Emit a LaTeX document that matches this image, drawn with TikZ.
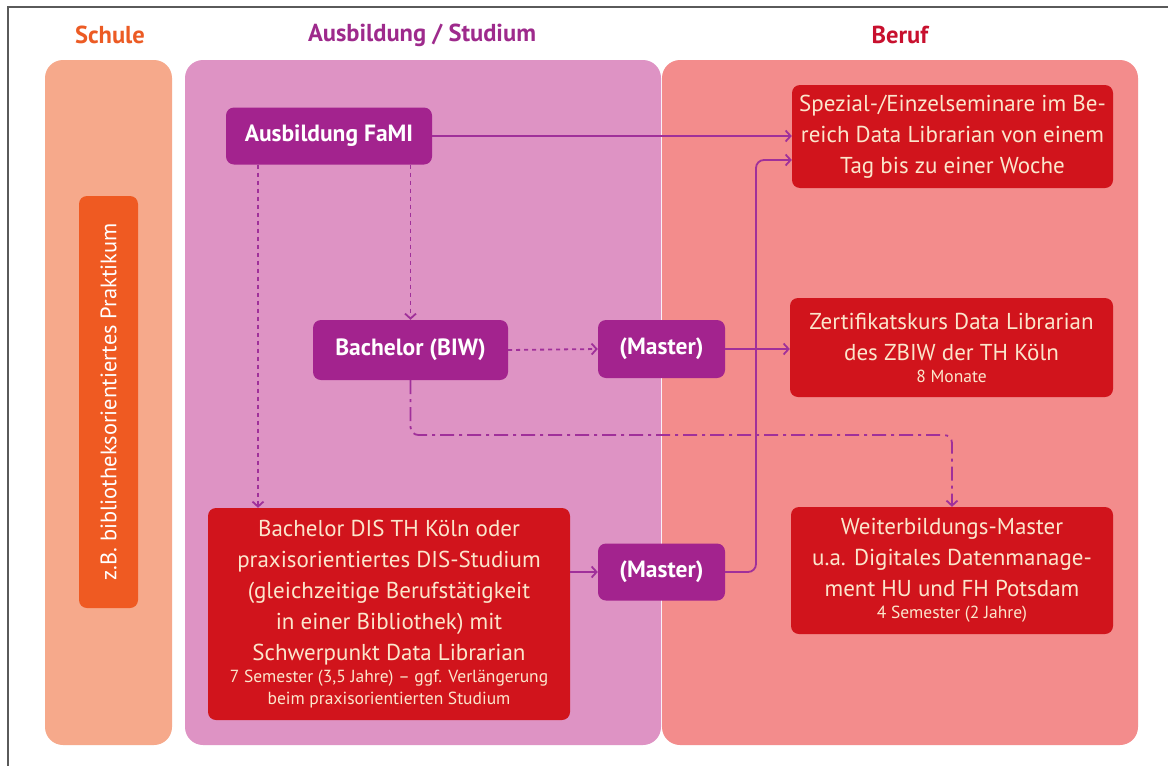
\documentclass[tikz,border=0pt]{standalone}
\usepackage{fontspec}
\setmainfont{PT Sans}
\usetikzlibrary{arrows.meta}
\definecolor{framegray}{HTML}{5A5A5A}
\definecolor{schulecol}{HTML}{F6A98B}
\definecolor{schuletitle}{HTML}{EC5B24}
\definecolor{praktcol}{HTML}{EF5A22}
\definecolor{ausbcol}{HTML}{DE93C4}
\definecolor{ausbtitle}{HTML}{9E2A8C}
\definecolor{berufcol}{HTML}{F38C8C}
\definecolor{beruftitle}{HTML}{C8102E}
\definecolor{purplebox}{HTML}{A3238E}
\definecolor{redbox}{HTML}{D1141C}
\definecolor{creamtext}{HTML}{FBE6CC}
\definecolor{linecol}{HTML}{A0309A}
\tikzset{
  title/.style={font=\fontsize{24.5}{28}\selectfont\bfseries},
  pbox/.style={fill=purplebox, rounded corners=8pt, text=white, inner sep=0pt,
    font=\fontsize{23.5}{28}\selectfont\bfseries, align=center},
  rbox/.style={fill=redbox, rounded corners=8pt, text=creamtext, inner sep=0pt,
    font=\fontsize{23}{31}\selectfont, align=center},
  conn/.style={draw=linecol, line width=1.8pt, -{Straight Barb[length=5pt,width=11pt]}},
  dashconn/.style={conn, dash pattern=on 4pt off 4pt},
  dotdashconn/.style={conn, dash pattern=on 14pt off 5pt on 3pt off 5pt},
}
\newcommand{\smalltxt}[1]{{\fontsize{17.5}{21}\selectfont #1}}
\begin{document}
\begin{tikzpicture}[x=1pt,y=-1pt]
\useasboundingbox (0,0) rectangle (1168,766);
\fill[white] (0,0) rectangle (1168,766);
\draw[framegray, line width=1.3pt] (8,766) -- (8,7) -- (1168,7);

% panels
\fill[schulecol, rounded corners=18pt] (45,60) rectangle (172,745);
\fill[ausbcol, rounded corners=18pt] (185,60) rectangle (661,745);
\fill[berufcol, rounded corners=18pt] (662,60) rectangle (1138,745);

% titles
\node[title, text=schuletitle] (tschule) at (110,35) {Schule};
\node[title, text=ausbtitle] (tausb) at (422,35) {Ausbildung / Studium};
\node[title, text=beruftitle] (tberuf) at (900,35) {Beruf};

% Schule
\node[fill=praktcol, rounded corners=8pt, text=white, rotate=90,
  minimum width=412pt, minimum height=59pt, inner sep=0pt,
  font=\fontsize{22.4}{26}\selectfont] (prakt) at (108.5,402) {z.B. bibliotheksorientiertes Praktikum};

% Ausbildung / Studium
\node[pbox, minimum width=206pt, minimum height=57pt] (fami) at (329,136) {Ausbildung FaMI};
\node[pbox, minimum width=195pt, minimum height=60pt] (biw) at (410.5,350) {Bachelor (BIW)};
\node[pbox, minimum width=127pt, minimum height=58pt] (m1) at (661.5,349) {(Master)};
\node[pbox, minimum width=127pt, minimum height=57pt] (m2) at (661.5,572) {(Master)};
\node[rbox, minimum width=362pt, minimum height=212pt] (dis) at (389,614)
  {Bachelor DIS TH Köln oder\\praxisorientiertes DIS-Studium\\(gleichzeitige Berufstätigkeit\\in einer Bibliothek) mit\\Schwerpunkt Data Librarian\\[-9pt]
   \smalltxt{7 Semester (3,5 Jahre) -- ggf. Verlängerung}\\[-9pt]\smalltxt{beim praxisorientierten Studium}};

% Beruf
\node[rbox, minimum width=321pt, minimum height=103pt] (spez) at (952.5,136.5)
  {Spezial-/Einzelseminare im Be-\\reich Data Librarian von einem\\Tag bis zu einer Woche};
\node[rbox, minimum width=323pt, minimum height=99pt] (zert) at (951.5,347.5)
  {Zertifikatskurs Data Librarian\\des ZBIW der TH Köln\\[-9pt]\smalltxt{8 Monate}};
\node[rbox, minimum width=322pt, minimum height=127pt] (weiter) at (952,570.5)
  {Weiterbildungs-Master\\u.a. Digitales Datenmanage-\\ment HU und FH Potsdam\\[-9pt]\smalltxt{4 Semester (2 Jahre)}};

% connectors
\draw[conn] (fami.east) -- (fami.east -| spez.west);
\draw[dashconn] (258,0 |- fami.south) -- (258,0 |- dis.north);
\draw[dashconn] (biw.north |- fami.south) -- (biw.north);
\draw[dashconn] (biw.east) -- (m1.west);
\draw[dotdashconn, rounded corners=8pt] (biw.south) -- (biw.south |- 0,435) -| (weiter.north);
\draw[conn] (m1.east) -- (m1.east -| zert.west);
\draw[conn] (m2.west -| dis.east) -- (m2.west);
\coordinate (j) at (756,160);
\draw[conn, rounded corners=8pt] (m2.east) -| (j) -- (j -| spez.west);
\end{tikzpicture}
\end{document}
